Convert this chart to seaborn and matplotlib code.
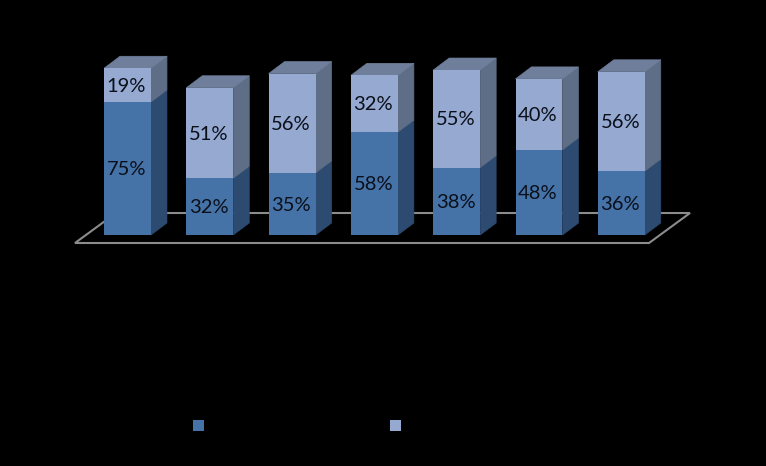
"""
Stacked 3D-look percentage bars on a black background.
"""

import matplotlib.pyplot as plt
from matplotlib.patches import Polygon, Rectangle
import seaborn as sns

# the category and legend names are black on black in the source, so unreadable
categories = ["1", "2", "3", "4", "5", "6", "7"]
lower_values = [75, 32, 35, 58, 38, 48, 36]
upper_values = [19, 51, 56, 32, 55, 40, 56]

DARK = "#4573a8"
LIGHT = "#95a9d1"
DARK_SIDE = "#2d4a70"
LIGHT_SIDE = "#5f6e87"
TOP = "#6f7f9b"

BAR_WIDTH = 0.571
DEPTH_X = 0.194
DEPTH_Y = 6.77

sns.set_theme(style="dark")
plt.rcParams["font.family"] = ["Lato", "DejaVu Sans"]

fig = plt.figure(figsize=(7.66, 4.66), dpi=100, facecolor="black")
ax = fig.add_axes([86.35 / 766, 231 / 466, 576.1 / 766, 235 / 466])

sns.barplot(x=categories, y=lower_values, color=DARK, saturation=1,
            width=BAR_WIDTH, linewidth=0, zorder=3, ax=ax)
sns.barplot(x=categories, y=upper_values, bottom=lower_values, color=LIGHT,
            saturation=1, width=BAR_WIDTH, linewidth=0, zorder=3, ax=ax)

ax.set_xlim(-0.5, 6.5)
ax.set_ylim(0, 132.5)
ax.axis("off")

# floor of the chart, behind the bars
ax.add_patch(Polygon(
    [(-0.638, -4.51), (6.337, -4.51), (6.835, 12.4), (-0.14, 12.4)],
    closed=True, fill=False, edgecolor="#8c8c8c", linewidth=1.5,
    clip_on=False, zorder=1
))

# side and top faces follow the drawn bars
for i, (low, up) in enumerate(zip(lower_values, upper_values)):
    right = i + BAR_WIDTH / 2
    left = i - BAR_WIDTH / 2
    total = low + up
    for y0, y1, color in [(0, low, DARK_SIDE), (low, total, LIGHT_SIDE)]:
        ax.add_patch(Polygon(
            [(right, y0), (right + DEPTH_X, y0 + DEPTH_Y),
             (right + DEPTH_X, y1 + DEPTH_Y), (right, y1)],
            closed=True, facecolor=color, edgecolor=color, linewidth=0.5,
            clip_on=False, zorder=2
        ))
    ax.add_patch(Polygon(
        [(left, total), (right, total),
         (right + DEPTH_X, total + DEPTH_Y), (left + DEPTH_X, total + DEPTH_Y)],
        closed=True, facecolor=TOP, edgecolor=TOP, linewidth=0.5,
        clip_on=False, zorder=2
    ))

# value labels in the middle of each segment
for container, values in zip(ax.containers, [lower_values, upper_values]):
    labels = ax.bar_label(container, labels=[f"{v}%" for v in values],
                          label_type="center", fontsize=14.5, color="#0a0f1a",
                          zorder=4)
    for label in labels:
        label.xyann = (-0.7, -0.8)

# legend keys only, their text is invisible in the source
for key_x, color in [(193, DARK), (390, LIGHT)]:
    fig.add_artist(Rectangle((key_x / 766, 35 / 466), 11 / 766, 11 / 466,
                             transform=fig.transFigure, facecolor=color,
                             edgecolor="none"))

fig.savefig("out.png", dpi=100)
plt.close(fig)
